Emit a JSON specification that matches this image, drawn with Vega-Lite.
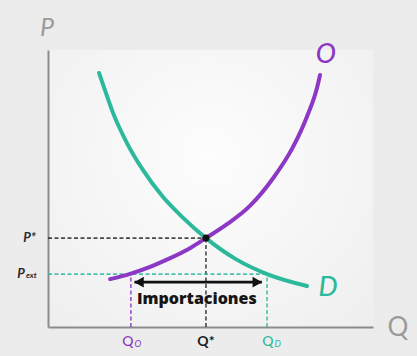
{
  "$schema": "https://vega.github.io/schema/vega-lite/v6.json",
  "width": 325,
  "height": 277,
  "autosize": {"type": "none"},
  "padding": {"left": 48, "top": 50, "right": 44, "bottom": 29},
  "background": "#ececec",
  "config": {
    "view": {"stroke": null, "fill": {"gradient": "radial", "x1": 0.5, "y1": 0.4, "r1": 0, "x2": 0.5, "y2": 0.4, "r2": 0.9, "stops": [{"offset": 0, "color": "#fdfdfd"}, {"offset": 1, "color": "#ebebeb"}]}},
    "font": "Lato",
    "axis": {"labels": false, "ticks": false, "grid": false, "domainColor": "#8c8c8c", "domainWidth": 2}
  },
  "datasets": {
    "curves": [
      {"q": 1.57, "p": 9.17, "c": "D"},
      {"q": 1.75, "p": 8.56, "c": "D"},
      {"q": 2.0, "p": 7.73, "c": "D"},
      {"q": 2.43, "p": 6.64, "c": "D"},
      {"q": 2.92, "p": 5.67, "c": "D"},
      {"q": 3.54, "p": 4.69, "c": "D"},
      {"q": 4.15, "p": 3.95, "c": "D"},
      {"q": 4.86, "p": 3.21, "c": "D"},
      {"q": 5.78, "p": 2.45, "c": "D"},
      {"q": 6.74, "p": 1.91, "c": "D"},
      {"q": 7.97, "p": 1.48, "c": "D"},
      {"q": 1.91, "p": 1.73, "c": "O"},
      {"q": 2.55, "p": 1.93, "c": "O"},
      {"q": 3.2, "p": 2.2, "c": "O"},
      {"q": 3.69, "p": 2.45, "c": "O"},
      {"q": 4.3, "p": 2.8, "c": "O"},
      {"q": 4.86, "p": 3.21, "c": "O"},
      {"q": 5.51, "p": 3.71, "c": "O"},
      {"q": 6.22, "p": 4.38, "c": "O"},
      {"q": 6.92, "p": 5.36, "c": "O"},
      {"q": 7.54, "p": 6.5, "c": "O"},
      {"q": 7.97, "p": 7.6, "c": "O"},
      {"q": 8.28, "p": 8.65, "c": "O"},
      {"q": 8.37, "p": 9.1, "c": "O"}
    ],
    "guides": [
      {"q": 0, "p": 3.21, "q2": 4.86, "p2": 3.21, "c": "E"},
      {"q": 4.86, "p": 0, "q2": 4.86, "p2": 3.21, "c": "E"},
      {"q": 0, "p": 1.91, "q2": 6.74, "p2": 1.91, "c": "D"},
      {"q": 2.55, "p": 0, "q2": 2.55, "p2": 1.91, "c": "O"},
      {"q": 6.74, "p": 0, "q2": 6.74, "p2": 1.91, "c": "D"}
    ],
    "arrow": [{"q": 2.66, "q2": 6.58, "p": 1.62}],
    "heads": [
      {"q": 2.8, "p": 1.62, "dir": "izq"},
      {"q": 6.44, "p": 1.62, "dir": "der"}
    ],
    "eq": [{"q": 4.86, "p": 3.21}],
    "imp": [{"q": 4.58, "p": 1.01, "t": "Importaciones"}],
    "pname": [{"q": -0.03, "p": 10.79, "t": "P"}],
    "qname": [{"q": 10.77, "p": -0.04, "t": "Q"}],
    "curvelabels": [
      {"q": 8.55, "p": 9.82, "t": "O", "c": "O"},
      {"q": 8.62, "p": 1.41, "t": "D", "c": "D"}
    ],
    "plabels": [
      {"q": -0.37, "p": 3.21, "t": "P*"},
      {"q": -0.71, "p": 1.91, "t": "P"}
    ],
    "psub": [{"q": -0.71, "p": 1.91, "t": "ext"}],
    "qlabels": [
      {"q": 2.63, "p": -0.54, "t": "Q", "s": "O", "c": "O"},
      {"q": 6.94, "p": -0.54, "t": "Q", "s": "D", "c": "D"}
    ],
    "qstar": [{"q": 4.86, "p": -0.54, "t": "Q*"}]
  },
  "layer": [
    {
      "data": {"name": "guides"},
      "mark": {"type": "rule", "strokeWidth": 1.6, "strokeDash": [4, 2.5], "opacity": 0.85},
      "encoding": {
        "x": {"field": "q", "type": "quantitative", "scale": {"domain": [0, 10], "nice": false, "zero": false}, "title": null},
        "x2": {"field": "q2"},
        "y": {"field": "p", "type": "quantitative", "scale": {"domain": [0, 10], "nice": false, "zero": false}, "title": null},
        "y2": {"field": "p2"},
        "color": {"field": "c", "type": "nominal", "scale": {"domain": ["O", "D", "E"], "range": ["#8d37c6", "#2cb99b", "#2a2a2a"]}, "legend": null}
      }
    },
    {
      "data": {"name": "curves"},
      "mark": {"type": "line", "strokeWidth": 4, "interpolate": "monotone", "strokeCap": "round"},
      "encoding": {
        "x": {"field": "q", "type": "quantitative", "scale": {"domain": [0, 10], "nice": false, "zero": false}, "title": null},
        "y": {"field": "p", "type": "quantitative", "scale": {"domain": [0, 10], "nice": false, "zero": false}, "title": null},
        "color": {"field": "c", "type": "nominal", "scale": {"domain": ["O", "D", "E"], "range": ["#8d37c6", "#2cb99b", "#2a2a2a"]}, "legend": null}
      }
    },
    {
      "data": {"name": "eq"},
      "mark": {"type": "point", "filled": true, "color": "#111111", "size": 50, "opacity": 1},
      "encoding": {
        "x": {"field": "q", "type": "quantitative", "scale": {"domain": [0, 10], "nice": false, "zero": false}, "title": null},
        "y": {"field": "p", "type": "quantitative", "scale": {"domain": [0, 10], "nice": false, "zero": false}, "title": null}
      }
    },
    {
      "data": {"name": "arrow"},
      "mark": {"type": "rule", "strokeWidth": 2.6, "color": "#111111"},
      "encoding": {
        "x": {"field": "q", "type": "quantitative", "scale": {"domain": [0, 10], "nice": false, "zero": false}, "title": null},
        "x2": {"field": "q2"},
        "y": {"field": "p", "type": "quantitative", "scale": {"domain": [0, 10], "nice": false, "zero": false}, "title": null}
      }
    },
    {
      "data": {"name": "heads"},
      "mark": {"type": "point", "filled": true, "color": "#111111", "size": 120, "opacity": 1},
      "encoding": {
        "x": {"field": "q", "type": "quantitative", "scale": {"domain": [0, 10], "nice": false, "zero": false}, "title": null},
        "y": {"field": "p", "type": "quantitative", "scale": {"domain": [0, 10], "nice": false, "zero": false}, "title": null},
        "shape": {"field": "dir", "type": "nominal", "scale": {"domain": ["izq", "der"], "range": ["triangle-left", "triangle-right"]}, "legend": null}
      }
    },
    {
      "data": {"name": "imp"},
      "mark": {"type": "text", "font": "Open Sans", "fontSize": 16, "fontWeight": 800, "color": "#151515", "baseline": "middle", "align": "center"},
      "encoding": {
        "x": {"field": "q", "type": "quantitative", "scale": {"domain": [0, 10], "nice": false, "zero": false}, "title": null},
        "y": {"field": "p", "type": "quantitative", "scale": {"domain": [0, 10], "nice": false, "zero": false}, "title": null},
        "text": {"field": "t"}
      }
    },
    {
      "data": {"name": "pname"},
      "mark": {"type": "text", "fontSize": 25, "fontStyle": "italic", "color": "#9a9a9a", "baseline": "middle", "align": "center"},
      "encoding": {
        "x": {"field": "q", "type": "quantitative", "scale": {"domain": [0, 10], "nice": false, "zero": false}, "title": null},
        "y": {"field": "p", "type": "quantitative", "scale": {"domain": [0, 10], "nice": false, "zero": false}, "title": null},
        "text": {"field": "t"}
      }
    },
    {
      "data": {"name": "qname"},
      "mark": {"type": "text", "fontSize": 26, "color": "#9a9a9a", "baseline": "middle", "align": "center"},
      "encoding": {
        "x": {"field": "q", "type": "quantitative", "scale": {"domain": [0, 10], "nice": false, "zero": false}, "title": null},
        "y": {"field": "p", "type": "quantitative", "scale": {"domain": [0, 10], "nice": false, "zero": false}, "title": null},
        "text": {"field": "t"}
      }
    },
    {
      "data": {"name": "curvelabels"},
      "mark": {"type": "text", "fontSize": 27, "fontStyle": "italic", "fontWeight": 500, "baseline": "middle", "align": "center"},
      "encoding": {
        "x": {"field": "q", "type": "quantitative", "scale": {"domain": [0, 10], "nice": false, "zero": false}, "title": null},
        "y": {"field": "p", "type": "quantitative", "scale": {"domain": [0, 10], "nice": false, "zero": false}, "title": null},
        "text": {"field": "t"},
        "color": {"field": "c", "type": "nominal", "scale": {"domain": ["O", "D", "E"], "range": ["#8d37c6", "#2cb99b", "#2a2a2a"]}, "legend": null}
      }
    },
    {
      "data": {"name": "plabels"},
      "mark": {"type": "text", "fontSize": 13, "fontStyle": "italic", "fontWeight": "bold", "color": "#2a2a2a", "baseline": "middle", "align": "right"},
      "encoding": {
        "x": {"field": "q", "type": "quantitative", "scale": {"domain": [0, 10], "nice": false, "zero": false}, "title": null},
        "y": {"field": "p", "type": "quantitative", "scale": {"domain": [0, 10], "nice": false, "zero": false}, "title": null},
        "text": {"field": "t"}
      }
    },
    {
      "data": {"name": "psub"},
      "mark": {"type": "text", "fontSize": 8, "fontStyle": "italic", "fontWeight": "bold", "color": "#2a2a2a", "baseline": "middle", "align": "left", "dx": 1, "dy": 2},
      "encoding": {
        "x": {"field": "q", "type": "quantitative", "scale": {"domain": [0, 10], "nice": false, "zero": false}, "title": null},
        "y": {"field": "p", "type": "quantitative", "scale": {"domain": [0, 10], "nice": false, "zero": false}, "title": null},
        "text": {"field": "t"}
      }
    },
    {
      "data": {"name": "qlabels"},
      "mark": {"type": "text", "fontSize": 14, "baseline": "middle", "align": "right", "fontWeight": 500},
      "encoding": {
        "x": {"field": "q", "type": "quantitative", "scale": {"domain": [0, 10], "nice": false, "zero": false}, "title": null},
        "y": {"field": "p", "type": "quantitative", "scale": {"domain": [0, 10], "nice": false, "zero": false}, "title": null},
        "text": {"field": "t"},
        "color": {"field": "c", "type": "nominal", "scale": {"domain": ["O", "D", "E"], "range": ["#8d37c6", "#2cb99b", "#2a2a2a"]}, "legend": null}
      }
    },
    {
      "data": {"name": "qlabels"},
      "mark": {"type": "text", "fontSize": 9, "fontStyle": "italic", "baseline": "middle", "align": "left", "dx": 1, "dy": 2},
      "encoding": {
        "x": {"field": "q", "type": "quantitative", "scale": {"domain": [0, 10], "nice": false, "zero": false}, "title": null},
        "y": {"field": "p", "type": "quantitative", "scale": {"domain": [0, 10], "nice": false, "zero": false}, "title": null},
        "text": {"field": "s"},
        "color": {"field": "c", "type": "nominal", "scale": {"domain": ["O", "D", "E"], "range": ["#8d37c6", "#2cb99b", "#2a2a2a"]}, "legend": null}
      }
    },
    {
      "data": {"name": "qstar"},
      "mark": {"type": "text", "fontSize": 14, "fontWeight": "bold", "color": "#1a1a1a", "baseline": "middle", "align": "center"},
      "encoding": {
        "x": {"field": "q", "type": "quantitative", "scale": {"domain": [0, 10], "nice": false, "zero": false}, "title": null},
        "y": {"field": "p", "type": "quantitative", "scale": {"domain": [0, 10], "nice": false, "zero": false}, "title": null},
        "text": {"field": "t"}
      }
    }
  ]
}
